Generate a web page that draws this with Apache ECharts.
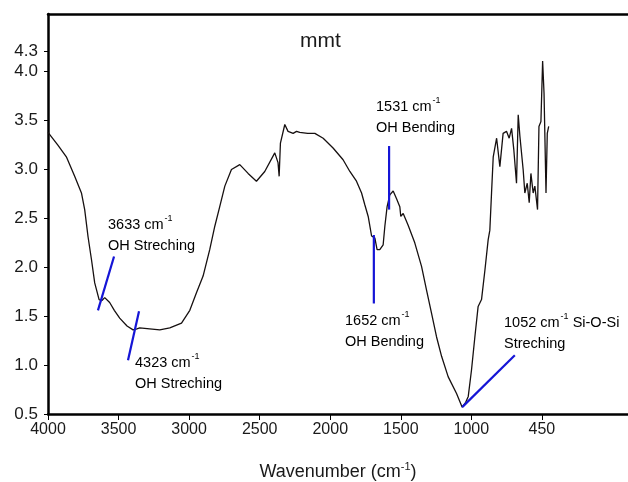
<!DOCTYPE html>
<html>
<head>
<meta charset="utf-8">
<script src="https://cdn.jsdelivr.net/npm/echarts@6/dist/echarts.min.js"></script>
<style>
  html, body { margin: 0; padding: 0; background: #fff; }
  #chart { width: 628px; height: 482px; }
</style>
</head>
<body>
<div id="chart"></div>
<script>
// FTIR spectrum of mmt
const wavenumbers = [
  4000, 3930, 3870, 3811, 3763, 3740, 3716, 3692, 3669, 3638, 3618, 3598, 3563, 3530, 3492, 3440,
  3397, 3370, 3350, 3280, 3208, 3137, 3054, 2995, 2948, 2901, 2854, 2818, 2783, 2747, 2700, 2641,
  2582, 2523, 2464, 2393, 2381, 2370, 2362, 2353, 2322, 2299, 2263, 2239, 2216, 2160, 2109, 2050,
  1980, 1909, 1861, 1814, 1778, 1755, 1731, 1707, 1684, 1668, 1649, 1625, 1613, 1597, 1578, 1554,
  1530, 1507, 1500, 1483, 1448, 1401, 1353, 1318, 1282, 1247, 1211, 1164, 1105, 1065, 1040, 1022,
  999, 975, 952, 928, 904, 881, 869, 857, 845, 821, 798, 775, 751, 732, 715, 699,
  680, 668, 656, 633, 621, 604, 590, 578, 562, 550, 531, 521, 507, 495, 485, 471,
  462, 452
];
const absorbance = [
  3.38, 3.25, 3.13, 2.93, 2.76, 2.59, 2.31, 2.08, 1.84, 1.67, 1.66, 1.69, 1.64, 1.56, 1.48, 1.40,
  1.36, 1.37, 1.38, 1.37, 1.36, 1.38, 1.43, 1.56, 1.74, 1.91, 2.18, 2.42, 2.62, 2.83, 3.00, 3.05,
  2.96, 2.88, 2.98, 3.17, 3.18, 3.07, 2.93, 3.27, 3.46, 3.39, 3.37, 3.39, 3.38, 3.37, 3.37, 3.32,
  3.22, 3.10, 2.98, 2.88, 2.76, 2.64, 2.52, 2.32, 2.30, 2.18, 2.18, 2.23, 2.42, 2.62, 2.74, 2.78,
  2.70, 2.62, 2.52, 2.55, 2.43, 2.25, 2.01, 1.77, 1.53, 1.29, 1.09, 0.88, 0.71, 0.57, 0.62, 0.68,
  0.95, 1.29, 1.60, 1.67, 1.97, 2.28, 2.38, 2.76, 3.13, 3.32, 3.03, 3.37, 3.39, 3.32, 3.42, 3.20,
  2.86, 3.56, 3.34, 3.00, 2.76, 2.86, 2.66, 2.96, 2.76, 2.83, 2.59, 3.44, 3.49, 4.11, 3.78, 2.76,
  3.37, 3.44
];

const xTicks = [4000, 3500, 3000, 2500, 2000, 1500, 1000, 500];
const yTicks = [0.5, 1.0, 1.5, 2.0, 2.5, 3.0, 3.5, 4.0, 4.21];

// blue pointer lines: [wavenumber, absorbance] start and end
const pointers = [
  [[3646, 1.56], [3532, 2.11]],
  [[3433, 1.05], [3355, 1.55]],
  [[1691, 1.63], [1691, 2.33]],
  [[1583, 2.59], [1583, 3.24]],
  [[1065, 0.57], [692, 1.10]]
];

const rich = {
  t: { fontSize: 14.5, fontFamily: 'Liberation Sans', color: '#1a1a1a', lineHeight: 21 },
  s: { fontSize: 9, fontFamily: 'Liberation Sans', color: '#1a1a1a', verticalAlign: 'top', lineHeight: 21, padding: [0, 0, 0, 1] }
};

function note(x, y, first, second) {
  return {
    type: 'text', left: x, top: y,
    style: {
      text: first + '\n{t|' + second + '}',
      rich: rich
    }
  };
}

const chart = echarts.init(document.getElementById('chart'));

const series = [{
  type: 'line',
  data: wavenumbers.map((w, i) => [w, absorbance[i]]),
  showSymbol: false,
  lineStyle: { color: '#161010', width: 1.3 },
  z: 3,
  animation: false
}];
pointers.forEach(p => {
  series.push({
    type: 'line',
    data: p,
    showSymbol: false,
    lineStyle: { color: '#1515d6', width: 2.2 },
    z: 4,
    animation: false
  });
});

chart.setOption({
  animation: false,
  grid: { left: 48, right: 0, top: 14, bottom: 68, outerBoundsMode: 'none' },
  xAxis: [{
    type: 'value',
    inverse: true,
    min: -110,
    max: 4000,
    name: '{t|Wavenumber (cm}{s|-1}{t|)}',
    nameLocation: 'middle',
    nameGap: 47,
    nameTextStyle: {
      rich: {
        t: { fontSize: 18, fontFamily: 'Liberation Sans', color: '#1a1a1a', lineHeight: 22 },
        s: { fontSize: 11, fontFamily: 'Liberation Sans', color: '#1a1a1a', verticalAlign: 'top', lineHeight: 22 }
      }
    },
    axisLine: { onZero: false, lineStyle: { color: '#000', width: 2.5 } },
    axisTick: { length: 6, lineStyle: { color: '#000', width: 1 }, customValues: xTicks },
    axisLabel: {
      customValues: xTicks,
      margin: 8,
      fontSize: 16,
      fontFamily: 'Liberation Sans',
      color: '#1a1a1a',
      formatter: v => (v === 500 ? '450' : String(v))
    },
    splitLine: { show: false }
  }, {
    type: 'value',
    position: 'top',
    inverse: true,
    min: -110,
    max: 4000,
    axisLine: { show: true, onZero: false, lineStyle: { color: '#000', width: 2.5 } },
    axisTick: { show: false },
    axisLabel: { show: false },
    splitLine: { show: false }
  }],
  yAxis: {
    type: 'value',
    position: 'left',
    min: 0.5,
    max: 4.59,
    axisLine: { show: true, onZero: false, lineStyle: { color: '#000', width: 2.5 } },
    axisTick: { show: true, length: 4, lineStyle: { color: '#000', width: 1 }, customValues: yTicks },
    axisLabel: {
      customValues: yTicks,
      margin: 10,
      fontSize: 17,
      fontFamily: 'Liberation Sans',
      color: '#1a1a1a',
      formatter: v => (v > 4.1 ? '4.3' : v.toFixed(1))
    },
    splitLine: { show: false }
  },
  graphic: [
    { type: 'text', left: 300, top: 31, style: { text: 'mmt', fontSize: 21, fontFamily: 'Liberation Sans', fill: '#1a1a1a' } },
    note(108, 214, '{t|3633 cm}{s|-1}', 'OH Streching'),
    note(135, 352, '{t|4323 cm}{s|-1}', 'OH Streching'),
    note(376, 96, '{t|1531 cm}{s|-1}', 'OH Bending'),
    note(345, 310, '{t|1652 cm}{s|-1}', 'OH Bending'),
    note(504, 312, '{t|1052 cm}{s|-1}{t| Si-O-Si}', 'Streching')
  ],
  series: series
});
</script>
</body>
</html>
